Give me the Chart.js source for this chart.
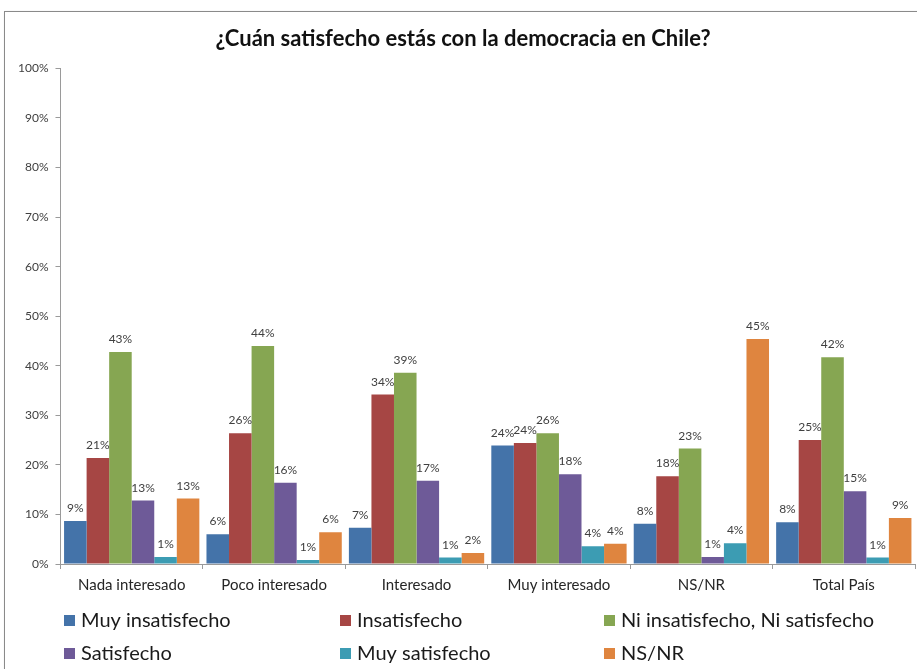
<!DOCTYPE html>
<html>
<head>
<meta charset="utf-8">
<script src="https://cdn.jsdelivr.net/npm/chart.js@4/dist/chart.umd.min.js"></script>
<style>
  html, body { margin: 0; padding: 0; background: #fff; }
  #wrap { position: relative; width: 917px; height: 669px; overflow: hidden; }
  #frame { position: absolute; left: 4px; top: 11px; width: 1000px; height: 1000px; border: 1px solid #8a8a8a; box-shadow: 1px 1px 2px #bbb; }
  canvas { position: absolute; left: 0; top: 0; }
</style>
</head>
<body>
<div id="wrap">
  <div id="frame"></div>
  <canvas id="c" width="917" height="669"></canvas>
</div>
<script>
const categories = ["Nada interesado", "Poco interesado", "Interesado", "Muy interesado", "NS/NR", "Total País"];
const seriesNames = ["Muy insatisfecho", "Insatisfecho", "Ni insatisfecho, Ni satisfecho", "Satisfecho", "Muy satisfecho", "NS/NR"];
const muyInsatisfecho = [8.7, 6.0, 7.3, 23.9, 8.1, 8.4];
const insatisfecho    = [21.4, 26.4, 34.2, 24.4, 17.7, 25.0];
const niNi            = [42.8, 44.0, 38.6, 26.4, 23.3, 41.7];
const satisfecho      = [12.8, 16.4, 16.8, 18.1, 1.4, 14.7];
const muySatisfecho   = [1.4, 0.8, 1.3, 3.6, 4.2, 1.3];
const nsnr            = [13.2, 6.4, 2.2, 4.1, 45.4, 9.3];
const yTicks = [0, 10, 20, 30, 40, 50, 60, 70, 80, 90, 100];
const colors = ["#4473A9", "#A64644", "#86A652", "#6E5A98", "#3C9CB3", "#DF853F"];

const seriesValues = [muyInsatisfecho, insatisfecho, niNi, satisfecho, muySatisfecho, nsnr];

const FONT = "Lato, 'Open Sans', sans-serif";

const dataLabelPlugin = {
  id: 'dataLabels',
  afterDatasetsDraw(chart) {
    const ctx = chart.ctx;
    ctx.save();
    ctx.font = "12px " + FONT;
    ctx.fillStyle = "#404040";
    ctx.textAlign = "center";
    ctx.textBaseline = "alphabetic";
    chart.data.datasets.forEach((ds, i) => {
      const meta = chart.getDatasetMeta(i);
      meta.data.forEach((bar, j) => {
        ctx.fillText(Math.round(ds.data[j]) + "%", bar.x, bar.y - 9);
      });
    });
    ctx.restore();
  }
};

const legendPlugin = {
  id: 'gridLegend',
  afterDraw(chart) {
    const ctx = chart.ctx;
    const colX = [64, 340, 604];
    const rowY = [620, 653];
    ctx.save();
    ctx.font = "20px " + FONT;
    ctx.textBaseline = "middle";
    ctx.textAlign = "left";
    chart.data.datasets.forEach((ds, i) => {
      const x = colX[i % 3], y = rowY[Math.floor(i / 3)];
      ctx.fillStyle = ds.backgroundColor;
      ctx.fillRect(x, y - 5, 11, 11);
      ctx.fillStyle = "#1a1a1a";
      ctx.fillText(ds.label, x + 17, y + 1);
    });
    ctx.restore();
  }
};

new Chart(document.getElementById('c'), {
  type: 'bar',
  data: {
    labels: categories,
    datasets: seriesNames.map((name, i) => ({
      label: name,
      data: seriesValues[i],
      backgroundColor: colors[i],
      borderWidth: 0,
      categoryPercentage: 0.95,
      barPercentage: 1.0
    }))
  },
  options: {
    responsive: false,
    animation: false,
    layout: { padding: { left: 11, right: 2, top: 0, bottom: 68 } },
    plugins: {
      legend: { display: false },
      tooltip: { enabled: false },
      title: {
        display: true,
        text: "¿Cuán satisfecho estás con la democracia en Chile?",
        font: { family: FONT, size: 22, weight: 'bold' },
        color: "#111",
        padding: { top: 26, bottom: 16 }
      }
    },
    scales: {
      y: {
        min: 0, max: 100,
        afterBuildTicks(scale) { scale.ticks = yTicks.map(v => ({ value: v })); },
        ticks: {
          callback: v => v + "%",
          font: { family: FONT, size: 12 },
          color: "#404040",
          padding: 7
        },
        grid: { drawOnChartArea: false, drawTicks: true, tickLength: 5, color: "#9a9a9a" },
        border: { color: "#9a9a9a" }
      },
      x: {
        ticks: { font: { family: FONT, size: 15 }, color: "#262626", padding: 7 },
        grid: { drawOnChartArea: false, drawTicks: true, tickLength: 5, color: "#9a9a9a", offset: true },
        border: { color: "#9a9a9a" }
      }
    }
  },
  plugins: [dataLabelPlugin, legendPlugin]
});
</script>
</body>
</html>
